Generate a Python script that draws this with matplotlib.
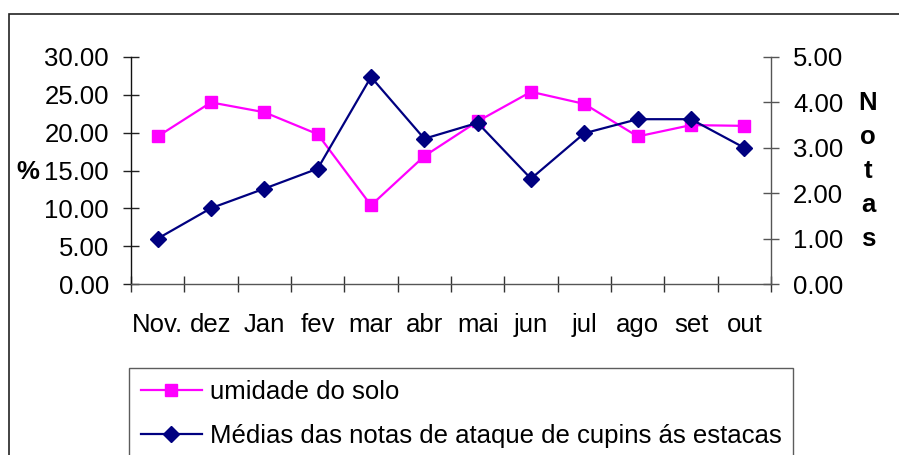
import matplotlib
matplotlib.use("Agg")
import matplotlib.pyplot as plt
from matplotlib.patches import Rectangle
import numpy as np

months = ["Nov.", "dez", "Jan", "fev", "mar", "abr", "mai", "jun", "jul", "ago", "set", "out"]
umidade = [19.5, 24.0, 22.7, 19.8, 10.4, 16.9, 21.5, 25.4, 23.8, 19.5, 21.0, 20.9]
notas = [1.0, 1.67, 2.1, 2.54, 4.56, 3.2, 3.55, 2.32, 3.32, 3.63, 3.63, 3.0]
left_ticks = [0, 5, 10, 15, 20, 25, 30]
right_ticks = [0, 1, 2, 3, 4, 5]
label_umidade = "umidade do solo"
label_notas = "Médias das notas de ataque de cupins ás estacas"

plt.rcParams['font.family'] = ['Liberation Sans', 'DejaVu Sans']
FS = 18.5

W, H = 899, 455
fig = plt.figure(figsize=(W / 100, H / 100), dpi=100)
ax = fig.add_axes([131 / W, 1 - 284 / H, (771 - 131) / W, (284 - 57) / H])
ax2 = ax.twinx()

x = np.arange(len(months))
l1, = ax.plot(x, umidade, color="#FF00FF", marker="s", markersize=8.5, linewidth=1.6,
              label=label_umidade, clip_on=False, zorder=3)
l2, = ax2.plot(x, notas, color="#000080", marker="D", markersize=8, linewidth=1.6,
               label=label_notas, clip_on=False, zorder=3)

ax.set_xlim(-0.5, len(months) - 0.5)
ax.set_ylim(0, 30)
ax2.set_ylim(0, 5)

ax.set_yticks(left_ticks)
ax.set_yticklabels([f"{v:.2f}" for v in left_ticks], fontsize=FS)
ax2.set_yticks(right_ticks)
ax2.set_yticklabels([f"{v:.2f}" for v in right_ticks], fontsize=FS)

ax.set_xticks(x)
ax.set_xticklabels(months, fontsize=FS)
ax.set_xticks(np.arange(-0.5, len(months), 1.0), minor=True)
ax.tick_params(axis="x", which="major", length=0, pad=21)
ax.tick_params(axis="x", which="minor", length=12, direction="inout", width=1, color="#333333")
ax.tick_params(axis="y", length=12, direction="inout", width=1, pad=10, color="#222222")
ax2.tick_params(axis="y", length=12, direction="inout", width=1, pad=10, color="#555555")

for a in (ax, ax2):
    a.spines["top"].set_visible(False)
ax.spines["right"].set_visible(False)
ax2.spines["left"].set_visible(False)
ax2.spines["bottom"].set_visible(False)
ax.spines["left"].set_color("#111111")
ax.spines["bottom"].set_color("#555555")
ax2.spines["right"].set_color("#555555")
for s in ("left", "bottom"):
    ax.spines[s].set_linewidth(1)
ax2.spines["right"].set_linewidth(1)

fig.text(28 / W, 1 - 172 / H, "%", fontsize=FS, fontweight="bold", ha="center", va="center")
for i, ch in enumerate("Notas"):
    fig.text(868 / W, 1 - (103 + i * 34) / H, ch, fontsize=FS, fontweight="bold",
             ha="center", va="center")

fig.patches.append(Rectangle((9 / W, -0.2), 1.0, 1 - 14 / H + 0.2, transform=fig.transFigure,
                             fill=False, edgecolor="#222222", linewidth=1.2))

leg = fig.legend(handles=[l1, l2], loc="upper left", bbox_to_anchor=(129 / W, 1 - 368 / H),
                 fontsize=FS, frameon=True, fancybox=False, shadow=False, borderaxespad=0,
                 handlelength=2.4, handletextpad=0.3, labelspacing=0.8, borderpad=0.45)
leg.get_frame().set_edgecolor("#333333")
leg.get_frame().set_linewidth(1)

fig.savefig("out.png", dpi=100)
